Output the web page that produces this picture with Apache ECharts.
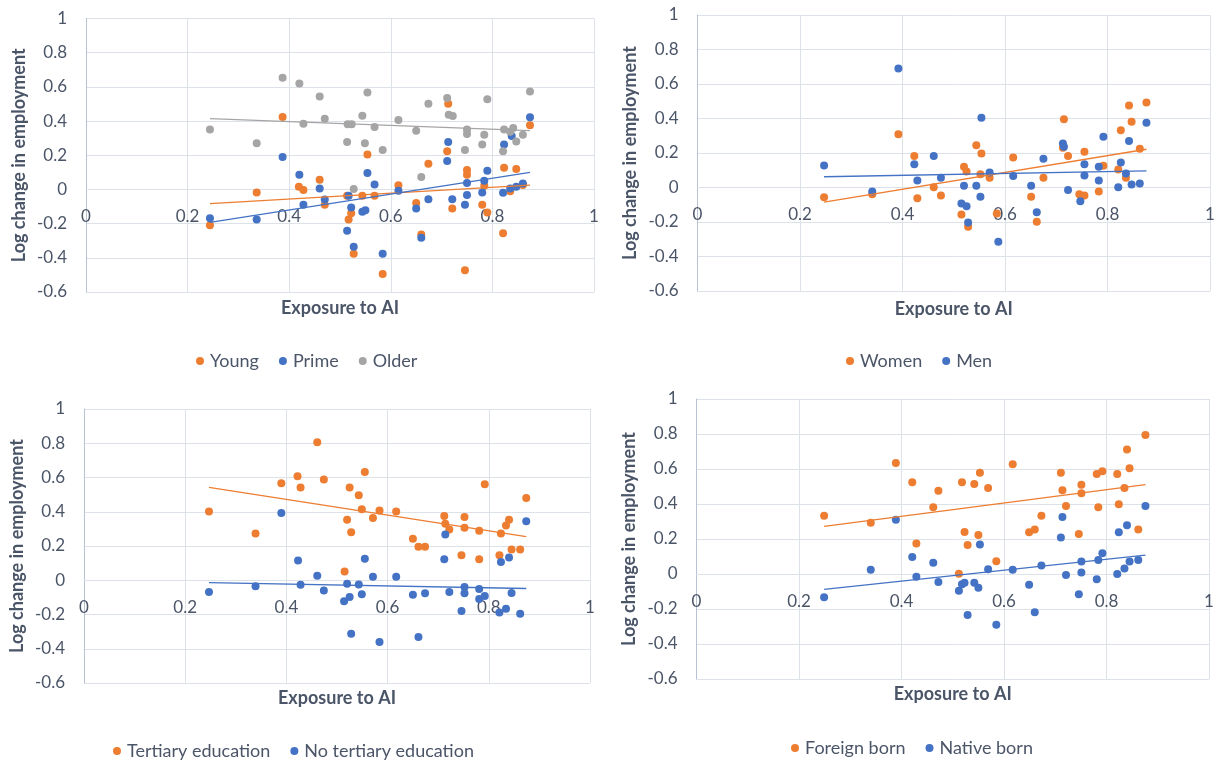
<!DOCTYPE html>
<html>
<head>
<meta charset="utf-8">
<title>Exposure to AI and employment change</title>
<script src="https://cdn.jsdelivr.net/npm/echarts@6/dist/echarts.min.js"></script>
<style>
  html, body { margin: 0; padding: 0; background: #ffffff; }
  #chart { width: 1221px; height: 760px; }
</style>
</head>
<body>
<div id="chart"></div>
<script>
// ---- Data: [exposure to AI, log change in employment] per country ----

// Panel 1: by age group
const young = [
  [0.244,-0.21],[0.336,-0.018],[0.387,0.424],[0.419,0.016],[0.428,-0.004],[0.46,0.057],[0.47,-0.09],
  [0.514,-0.037],[0.517,-0.176],[0.522,-0.139],[0.527,-0.376],[0.544,-0.037],[0.554,0.204],[0.568,-0.037],
  [0.584,-0.494],[0.615,0.024],[0.65,-0.08],[0.674,0.151],[0.66,-0.263],[0.713,0.502],[0.711,0.224],
  [0.721,-0.112],[0.75,0.114],[0.75,0.086],[0.746,-0.473],[0.784,0.022],[0.78,-0.09],[0.79,-0.135],
  [0.823,0.127],[0.821,-0.257],[0.835,-0.01],[0.847,0.12],[0.86,0.026],[0.874,0.375]
];
const prime = [
  [0.244,-0.169],[0.336,-0.176],[0.387,0.19],[0.42,0.086],[0.428,-0.09],[0.46,0.006],[0.47,-0.059],
  [0.514,-0.241],[0.517,-0.037],[0.522,-0.106],[0.527,-0.335],[0.544,-0.13],[0.55,-0.122],[0.554,0.096],
  [0.568,0.029],[0.584,-0.376],[0.615,-0.008],[0.65,-0.112],[0.674,-0.057],[0.66,-0.282],[0.713,0.278],
  [0.711,0.167],[0.721,-0.057],[0.75,0.037],[0.75,-0.033],[0.746,-0.09],[0.784,0.051],[0.78,-0.018],
  [0.79,0.11],[0.823,0.263],[0.821,-0.02],[0.835,0.006],[0.838,0.312],[0.847,0.016],[0.86,0.035],[0.874,0.422]
];
const older = [
  [0.244,0.351],[0.336,0.27],[0.387,0.653],[0.42,0.62],[0.428,0.384],[0.46,0.543],[0.47,0.414],
  [0.514,0.278],[0.515,0.382],[0.523,0.382],[0.527,0.002],[0.544,0.431],[0.549,0.27],[0.554,0.567],
  [0.568,0.365],[0.584,0.231],[0.615,0.406],[0.65,0.343],[0.674,0.502],[0.66,0.073],[0.711,0.535],
  [0.714,0.437],[0.722,0.43],[0.75,0.351],[0.75,0.325],[0.746,0.231],[0.784,0.32],[0.78,0.263],
  [0.79,0.527],[0.823,0.351],[0.835,0.337],[0.841,0.359],[0.847,0.28],[0.821,0.224],[0.86,0.32],[0.874,0.573]
];

// Panel 2: by gender
const women = [
  [0.247,-0.056],[0.341,-0.039],[0.392,0.309],[0.423,0.182],[0.429,-0.062],[0.461,0.002],[0.475,-0.046],
  [0.52,0.12],[0.525,0.093],[0.515,-0.157],[0.528,-0.228],[0.544,0.245],[0.554,0.197],[0.552,0.077],
  [0.57,0.056],[0.584,-0.151],[0.616,0.174],[0.651,-0.054],[0.662,-0.199],[0.675,0.056],[0.713,0.23],
  [0.715,0.396],[0.723,0.182],[0.745,-0.039],[0.755,-0.046],[0.755,0.207],[0.792,0.126],[0.783,-0.023],
  [0.821,0.104],[0.826,0.332],[0.836,0.056],[0.842,0.475],[0.847,0.381],[0.863,0.224],[0.876,0.493]
];
const men = [
  [0.247,0.128],[0.341,-0.023],[0.392,0.69],[0.423,0.135],[0.429,0.041],[0.461,0.182],[0.475,0.056],
  [0.52,0.01],[0.544,0.01],[0.515,-0.093],[0.525,-0.108],[0.528,-0.203],[0.554,0.404],[0.552,-0.054],
  [0.57,0.087],[0.587,-0.315],[0.616,0.066],[0.651,0.01],[0.662,-0.143],[0.675,0.166],[0.713,0.255],
  [0.715,0.236],[0.723,-0.015],[0.747,-0.079],[0.755,0.135],[0.755,0.07],[0.783,0.12],[0.783,0.041],
  [0.792,0.294],[0.821,0.002],[0.826,0.145],[0.836,0.081],[0.842,0.27],[0.847,0.017],[0.863,0.023],[0.876,0.375]
];

// Panel 3: by education
const tertiary = [
  [0.247,0.402],[0.339,0.273],[0.39,0.566],[0.422,0.607],[0.428,0.542],[0.461,0.806],[0.474,0.589],
  [0.515,0.051],[0.52,0.353],[0.525,0.542],[0.528,0.281],[0.543,0.496],[0.549,0.414],[0.555,0.632],
  [0.571,0.363],[0.584,0.408],[0.617,0.401],[0.65,0.242],[0.661,0.195],[0.674,0.195],[0.712,0.375],
  [0.714,0.33],[0.722,0.297],[0.746,0.146],[0.752,0.369],[0.752,0.306],[0.781,0.289],[0.781,0.123],
  [0.792,0.56],[0.821,0.146],[0.824,0.273],[0.834,0.32],[0.84,0.353],[0.845,0.18],[0.862,0.18],[0.874,0.48]
];
const noTertiary = [
  [0.247,-0.068],[0.339,-0.035],[0.39,0.392],[0.423,0.115],[0.428,-0.027],[0.461,0.027],[0.474,-0.06],
  [0.514,-0.123],[0.52,-0.02],[0.525,-0.098],[0.528,-0.312],[0.543,-0.025],[0.549,-0.082],[0.555,0.125],
  [0.571,0.02],[0.584,-0.361],[0.617,0.02],[0.65,-0.084],[0.661,-0.332],[0.674,-0.076],[0.712,0.123],
  [0.714,0.267],[0.722,-0.068],[0.746,-0.18],[0.752,-0.039],[0.752,-0.076],[0.781,-0.051],[0.781,-0.109],
  [0.792,-0.092],[0.821,-0.189],[0.824,0.107],[0.834,-0.166],[0.84,0.133],[0.845,-0.074],[0.862,-0.195],[0.874,0.345]
];

// Panel 4: by country of birth
const foreignBorn = [
  [0.249,0.333],[0.34,0.293],[0.389,0.634],[0.421,0.524],[0.429,0.175],[0.462,0.381],[0.472,0.476],
  [0.512,0.002],[0.518,0.524],[0.523,0.24],[0.529,0.166],[0.542,0.514],[0.553,0.579],[0.55,0.223],
  [0.569,0.491],[0.585,0.073],[0.617,0.627],[0.649,0.238],[0.66,0.255],[0.673,0.333],[0.711,0.579],
  [0.714,0.478],[0.721,0.389],[0.746,0.229],[0.751,0.51],[0.751,0.461],[0.781,0.571],[0.792,0.587],
  [0.784,0.381],[0.821,0.571],[0.824,0.398],[0.835,0.491],[0.84,0.712],[0.845,0.604],[0.862,0.255],[0.876,0.794]
];
const nativeBorn = [
  [0.249,-0.133],[0.34,0.025],[0.389,0.31],[0.421,0.097],[0.429,-0.015],[0.462,0.065],[0.472,-0.046],
  [0.512,-0.095],[0.518,-0.059],[0.523,-0.05],[0.529,-0.234],[0.542,-0.05],[0.55,-0.078],[0.553,0.168],
  [0.569,0.027],[0.585,-0.29],[0.617,0.025],[0.649,-0.061],[0.66,-0.219],[0.673,0.048],[0.711,0.208],
  [0.714,0.326],[0.721,-0.006],[0.746,-0.116],[0.751,0.072],[0.751,0.008],[0.781,-0.03],[0.784,0.08],
  [0.792,0.118],[0.821,0.0],[0.824,0.238],[0.835,0.032],[0.84,0.278],[0.845,0.072],[0.862,0.08],[0.876,0.389]
];

// Axis ranges and titles
const xRange = { min: 0, max: 1, step: 0.2 };
const yRange = { min: -0.6, max: 1, step: 0.2 };
const xTitle = 'Exposure to AI';
const yTitle = 'Log change in employment';

// ---- Styling ----
const ORANGE = '#ED7D31', BLUE = '#4472C4', GRAY = '#A5A5A5';
const FONT = 'Lato, "Open Sans", sans-serif';
const TEXT = '#4b5568';
const GRID_LINE = '#dde1e8';
const AXIS_LINE = '#b7c2d3';

const panels = [
  { grid: { left: 86, top: 18.5, width: 508, height: 273.5 }, titleY: 308, legend: { left: 191, top: 347 },
    series: [ { name: 'Young', data: young, color: ORANGE }, { name: 'Prime', data: prime, color: BLUE }, { name: 'Older', data: older, color: GRAY } ] },
  { grid: { left: 697.5, top: 15, width: 512.5, height: 276 }, titleY: 309, legend: { left: 841, top: 347 },
    series: [ { name: 'Women', data: women, color: ORANGE }, { name: 'Men', data: men, color: BLUE } ] },
  { grid: { left: 84, top: 409, width: 506, height: 274 }, titleY: 698, legend: { left: 108, top: 737 },
    series: [ { name: 'Tertiary education', data: tertiary, color: ORANGE }, { name: 'No tertiary education', data: noTertiary, color: BLUE } ] },
  { grid: { left: 696.5, top: 399, width: 512.5, height: 280 }, titleY: 694, legend: { left: 786, top: 734 },
    series: [ { name: 'Foreign born', data: foreignBorn, color: ORANGE }, { name: 'Native born', data: nativeBorn, color: BLUE } ] }
];

// Ordinary least-squares line across the span of the points
function trendLine(points) {
  const n = points.length;
  let sx = 0, sy = 0, sxx = 0, sxy = 0, lo = Infinity, hi = -Infinity;
  points.forEach(([x, y]) => { sx += x; sy += y; sxx += x * x; sxy += x * y; lo = Math.min(lo, x); hi = Math.max(hi, x); });
  const slope = (n * sxy - sx * sy) / (n * sxx - sx * sx);
  const intercept = (sy - slope * sx) / n;
  return [[lo, intercept + slope * lo], [hi, intercept + slope * hi]];
}

const option = {
  animation: false,
  backgroundColor: '#ffffff',
  textStyle: { fontFamily: FONT },
  grid: [], xAxis: [], yAxis: [], legend: [], series: [], graphic: []
};

panels.forEach((p, i) => {
  option.grid.push(Object.assign({ containLabel: false }, p.grid));

  // The horizontal axis crosses the vertical one at zero: lift it from the
  // bottom edge by the share of the value range that lies below zero.
  const zeroLift = p.grid.height * (0 - yRange.min) / (yRange.max - yRange.min);

  option.xAxis.push({
    type: 'value', gridIndex: i, position: 'bottom', offset: -zeroLift,
    min: xRange.min, max: xRange.max, interval: xRange.step,
    axisLine: { show: true, onZero: false, lineStyle: { color: GRID_LINE, width: 1 } },
    axisTick: { show: false },
    axisLabel: { show: true, margin: 19, color: TEXT, fontSize: 17, fontFamily: FONT, showMinLabel: true, showMaxLabel: true },
    splitLine: { show: true, lineStyle: { color: GRID_LINE, width: 1 } }
  });

  option.yAxis.push({
    type: 'value', gridIndex: i,
    min: yRange.min, max: yRange.max, interval: yRange.step,
    name: yTitle, nameLocation: 'middle', nameRotate: 90, nameGap: 58,
    nameTextStyle: { color: TEXT, fontSize: 18, fontWeight: 'bold', fontFamily: FONT },
    axisLine: { show: true, onZero: false, lineStyle: { color: AXIS_LINE, width: 1 } },
    axisTick: { show: false },
    axisLabel: { margin: 19, color: TEXT, fontSize: 17, fontFamily: FONT, showMinLabel: true, showMaxLabel: true },
    splitLine: { show: true, lineStyle: { color: GRID_LINE, width: 1 } }
  });

  option.legend.push({
    left: p.legend.left, top: p.legend.top, orient: 'horizontal',
    icon: 'circle', itemWidth: 8, itemHeight: 8, itemGap: 20,
    textStyle: { color: TEXT, fontSize: 18, fontFamily: FONT, padding: [0, 0, 0, 1] },
    data: p.series.map(s => s.name),
    selectedMode: false
  });

  p.series.forEach(s => {
    option.series.push({
      type: 'scatter', name: s.name, xAxisIndex: i, yAxisIndex: i,
      data: s.data, symbol: 'circle', symbolSize: 8,
      itemStyle: { color: s.color, opacity: 1 },
      z: 2
    });
  });
  p.series.forEach(s => {
    option.series.push({
      type: 'line', name: s.name + ' (trend)', xAxisIndex: i, yAxisIndex: i,
      data: trendLine(s.data), showSymbol: false, symbol: 'none', silent: true,
      lineStyle: { color: s.color, width: 1.3 },
      z: 3
    });
  });

  option.graphic.push({
    type: 'text',
    x: p.grid.left + p.grid.width / 2, y: p.titleY,
    style: { text: xTitle, fill: TEXT, font: 'bold 18px ' + FONT, align: 'center', verticalAlign: 'middle' }
  });
});

const chart = echarts.init(document.getElementById('chart'), null, { renderer: 'canvas' });
chart.setOption(option);
</script>
</body>
</html>
